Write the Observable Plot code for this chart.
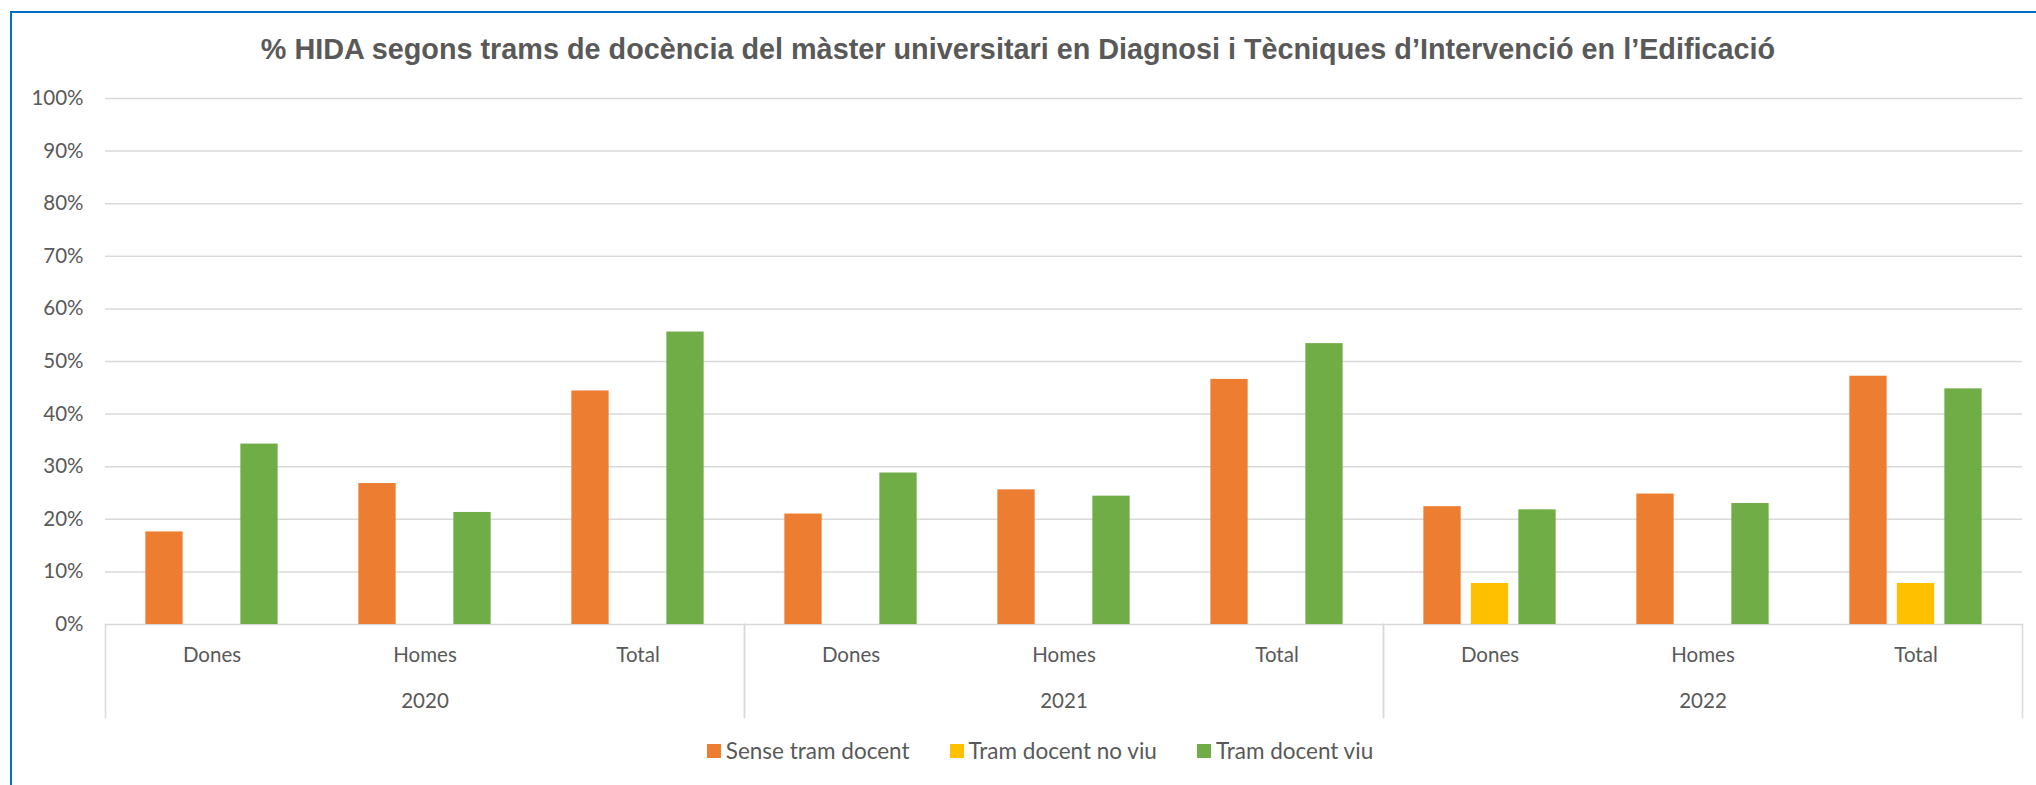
<!DOCTYPE html>
<html>
<head>
<meta charset="utf-8">
<script src="https://cdn.jsdelivr.net/npm/d3@7"></script>
<script src="https://cdn.jsdelivr.net/npm/@observablehq/plot@0.6"></script>
<style>
  html, body { margin: 0; padding: 0; background: #fff; }
  #wrap { position: relative; width: 2036px; height: 785px; overflow: hidden; background: #fff; }
  #border { position: absolute; left: 10px; top: 11px; width: 2100px; height: 900px;
            border-left: 2px solid #0070C0; border-top: 2px solid #0070C0; box-sizing: border-box; }
  #title { position: absolute; left: 0; top: 32px; width: 2036px; text-align: center;
           font-family: "Liberation Sans", Arial, sans-serif; font-weight: bold; font-size: 28.8px;
           color: #595959; line-height: 34px; white-space: nowrap; }
  #chart { position: absolute; left: 0; top: 70px; }
  #legend { position: absolute; left: 22px; top: 737px; width: 2036px; display: flex; justify-content: center;
            align-items: center; font-family: Lato, "Open Sans", sans-serif; font-size: 22.5px; color: #595959; }
  #legend .item { display: flex; align-items: center; margin: 0 20px; }
  #legend .sw { width: 14px; height: 14px; margin-right: 5px; }
</style>
</head>
<body>
<div id="wrap">
  <div id="border"></div>
  <div id="title"></div>
  <div id="chart"></div>
  <div id="legend"></div>
</div>
<script>
const titleText = "% HIDA segons trams de docència del màster universitari en Diagnosi i Tècniques d’Intervenció en l’Edificació";
const years = ["2020", "2021", "2022"];
const categories = ["Dones", "Homes", "Total"];
const series = ["Sense tram docent", "Tram docent no viu", "Tram docent viu"];
const seriesColors = ["#ED7D31", "#FFC000", "#70AD47"];
// values in %, ordered 2020 Dones/Homes/Total, 2021 ..., 2022 ...
const senseTramDocent = [17.6, 26.8, 44.4, 21.0, 25.6, 46.6, 22.4, 24.8, 47.2];
const tramDocentNoViu = [null, null, null, null, null, null, 7.8, null, 7.8];
const tramDocentViu   = [34.3, 21.3, 55.6, 28.8, 24.4, 53.4, 21.8, 23.0, 44.8];
const yTicks = [0, 0.1, 0.2, 0.3, 0.4, 0.5, 0.6, 0.7, 0.8, 0.9, 1.0];

const seriesValues = [senseTramDocent, tramDocentNoViu, tramDocentViu];
const rows = [];
years.forEach((yr, yi) => categories.forEach((cat, ci) => series.forEach((s, si) => {
  const v = seriesValues[si][yi * categories.length + ci];
  if (v != null) rows.push({year: yr, category: cat, series: s, value: v / 100});
})));
const catLabels = [];
years.forEach(yr => categories.forEach(cat => catLabels.push({year: yr, category: cat})));
const yearLabels = years.map(yr => ({year: yr}));

document.getElementById("title").textContent = titleText;

const W = 2036, H = 655, mTop = 28, mBottom = 101, mLeft = 104, mRight = 13;
const frameH = H - mTop - mBottom;
const catW = (W - mLeft - mRight) / (years.length * categories.length);
const barW = 37.5, step = 47.5;
const inset = (catW - barW) / 2;

const chart = Plot.plot({
  width: W, height: H,
  marginTop: mTop, marginBottom: mBottom, marginLeft: mLeft, marginRight: mRight,
  fx: {domain: years, padding: 0, axis: null},
  x: {domain: categories, padding: 0, axis: null},
  y: {domain: [0, 1], axis: null},
  color: {domain: series, range: seriesColors},
  style: {fontFamily: "Lato, 'Open Sans', sans-serif", fontSize: "20px", color: "#595959", background: "transparent", overflow: "visible"},
  marks: [
    Plot.gridY(yTicks, {stroke: "#D9D9D9", strokeOpacity: 1, strokeWidth: 1.5}),
    Plot.axisY(yTicks, {tickSize: 0, tickPadding: 22, tickFormat: d3.format(".0%"), fontSize: 20.5, fill: "#595959", label: null}),
    ...series.map((s, i) => Plot.barY(rows.filter(r => r.series === s), {
      fx: "year", x: "category", y: "value", fill: "series",
      insetLeft: inset, insetRight: inset, dx: (i - 1) * step
    })),
    Plot.frame({anchor: "left", stroke: "#D9D9D9", strokeWidth: 1.5, insetTop: frameH, insetBottom: -93}),
    Plot.frame({anchor: "right", stroke: "#D9D9D9", strokeWidth: 1.5, insetTop: frameH, insetBottom: -93}),
    Plot.text(catLabels, {fx: "year", x: "category", text: "category", frameAnchor: "bottom", dy: 37, fontSize: 20.5, fill: "#595959"}),
    Plot.text(yearLabels, {fx: "year", text: "year", frameAnchor: "bottom", dy: 83, fontSize: 20.5, fill: "#595959"})
  ]
});
document.getElementById("chart").appendChild(chart);

const legend = document.getElementById("legend");
series.forEach((s, i) => {
  const item = document.createElement("div");
  item.className = "item";
  const sw = document.createElement("div");
  sw.className = "sw";
  sw.style.background = seriesColors[i];
  const lab = document.createElement("span");
  lab.textContent = s;
  item.appendChild(sw); item.appendChild(lab);
  legend.appendChild(item);
});
</script>
</body>
</html>
